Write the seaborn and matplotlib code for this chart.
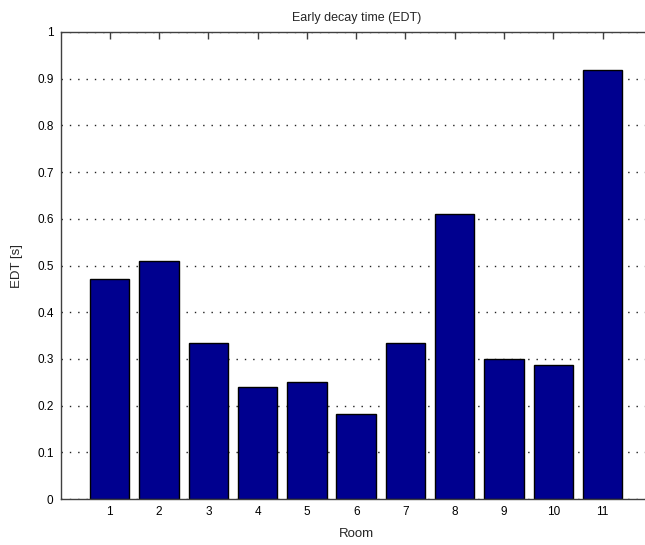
import matplotlib
matplotlib.use("Agg")
import matplotlib.pyplot as plt
import seaborn as sns
import pandas as pd

rooms = [1, 2, 3, 4, 5, 6, 7, 8, 9, 10, 11]
edt = [0.472, 0.510, 0.335, 0.239, 0.251, 0.183, 0.335, 0.610, 0.300, 0.286, 0.919]
y_ticks = [0, 0.1, 0.2, 0.3, 0.4, 0.5, 0.6, 0.7, 0.8, 0.9, 1]
y_tick_labels = ["0", "0.1", "0.2", "0.3", "0.4", "0.5", "0.6", "0.7", "0.8", "0.9", "1"]

sns.set_style("white")
plt.rcParams["font.family"] = ["Liberation Sans", "DejaVu Sans"]

df = pd.DataFrame({"Room": rooms, "EDT": edt})

fig = plt.figure(figsize=(6.45, 5.45), dpi=100)
ax = fig.add_axes([60.5 / 645, 46 / 545, 591.4 / 645, 467 / 545])

sns.barplot(data=df, x="Room", y="EDT", native_scale=True, width=0.8,
            color="#00008F", saturation=1, edgecolor="black", linewidth=1.0, ax=ax)

ax.set_xlim(0, 12)
ax.set_ylim(0, 1)
ax.set_xticks(rooms)
ax.set_xticklabels([str(r) for r in rooms])
ax.set_yticks(y_ticks)
ax.set_yticklabels(y_tick_labels)

ax.yaxis.grid(True, linestyle=(0, (1, 5)), color="#202020", linewidth=1.0)
ax.xaxis.grid(False)
ax.set_axisbelow(True)

for s in ax.spines.values():
    s.set_color("#404040")
    s.set_linewidth(1.0)
    s.set_visible(True)

ax.tick_params(axis="both", direction="in", length=5, width=1, color="#404040",
               labelsize=8.5, labelcolor="black", top=True, right=True, pad=5)

ax.set_title("Early decay time (EDT)", fontsize=9, pad=8)
ax.set_xlabel("Room", fontsize=9.5, labelpad=7)
ax.set_ylabel("EDT [s]", fontsize=9.5, labelpad=10)

fig.savefig("out.png", dpi=100)
